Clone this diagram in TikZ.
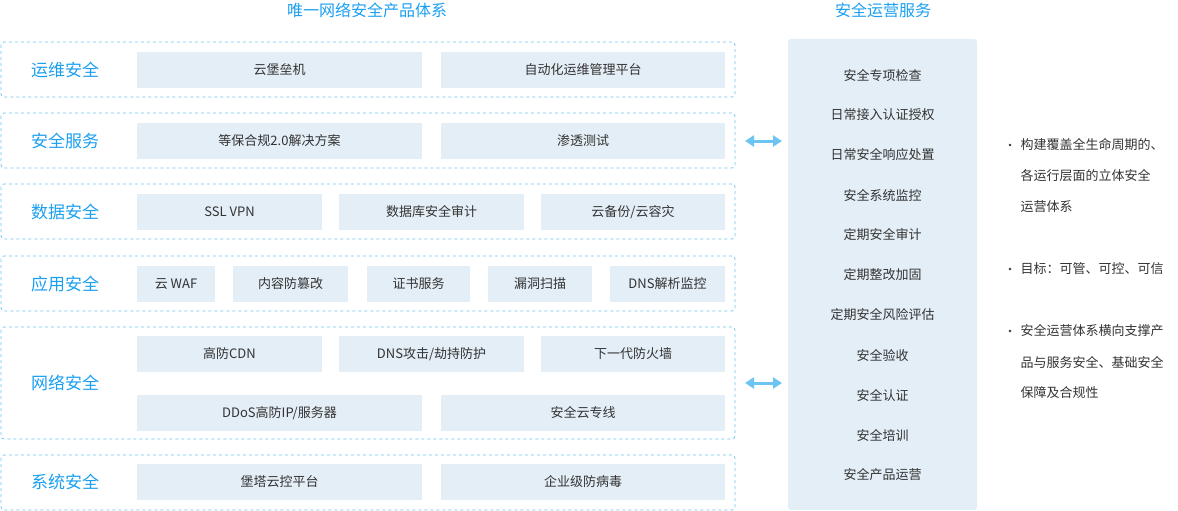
\documentclass[tikz,border=0pt]{standalone}
\usepackage{fontspec}
\setmainfont{Noto Sans CJK SC}
\usetikzlibrary{arrows.meta,positioning}
\definecolor{secblue}{HTML}{1A9FF0}
\definecolor{boxfill}{HTML}{E3EEF6}
\definecolor{dashline}{HTML}{6CC4F2}
\definecolor{txtgray}{HTML}{333333}
\tikzset{
	grp/.style={draw=dashline, dashed, rounded corners=3pt, line width=0.8pt},
	grp name/.style={text=secblue, font=\fontsize{17}{17}\selectfont, anchor=center},
	title/.style={text=secblue, font=\fontsize{16}{16}\selectfont},
	svc/.style={text=txtgray, font=\fontsize{13}{13}\selectfont},
	note/.style={text=txtgray, font=\fontsize{13}{13}\selectfont, anchor=west},
	link/.style={{Triangle[width=11pt,length=9pt]}-{Triangle[width=11pt,length=9pt]}, draw=dashline, line width=3pt}
}
\begin{document}
\begin{tikzpicture}[x=1pt, y=-1pt]
  \useasboundingbox (0,0) rectangle (1178,511);
  % titles
  \node[title] (t1) at (367,10) {唯一网络安全产品体系};
  \node[title] (t2) at (883,10) {安全运营服务};
  % groups
  \draw[grp] (1,42) rectangle (735,97);
  \draw[grp] (1,113) rectangle (735,168);
  \draw[grp] (1,184) rectangle (735,239);
  \draw[grp] (1,256) rectangle (735,311);
  \draw[grp] (1,327) rectangle (735,439);
  \draw[grp] (1,455) rectangle (735,510);
  \node[grp name] (g1) at (65,70) {运维安全};
  \node[grp name] (g2) at (65,141) {安全服务};
  \node[grp name] (g3) at (65,212) {数据安全};
  \node[grp name] (g4) at (65,284) {应用安全};
  \node[grp name] (g5) at (65,383) {网络安全};
  \node[grp name] (g6) at (65,482) {系统安全};
  % items: x1/x2/y/text
  \foreach \xa/\xb/\yy/\txt in {
      137/422/70/云堡垒机, 441/725/70/自动化运维管理平台,
      137/422/141/等保合规2.0解决方案, 441/725/141/渗透测试,
      137/322/212/SSL VPN, 339/524/212/数据库安全审计, 541/725/212/{云备份/云容灾},
      137/215/284/云 WAF, 233/348/284/内容防篡改, 367/470/284/证书服务,
      488/592/284/漏洞扫描, 610/725/284/DNS解析监控,
      137/322/354/高防CDN, 339/524/354/{DNS攻击/劫持防护}, 541/725/354/下一代防火墙,
      137/422/413/{DDoS高防IP/服务器}, 441/725/413/安全云专线,
      137/422/482/堡塔云控平台, 441/725/482/企业级防病毒} {
    \fill[boxfill] (\xa,\yy-18) rectangle (\xb,\yy+18);
    \node[svc] at ({(\xa+\xb)/2},\yy) {\txt};
  }
  % service panel
  \node[fill=boxfill, rounded corners=3pt, minimum width=189pt, minimum height=471pt, inner sep=0pt] (ops) at (882.5,274.5) {};
  \foreach \txt [count=\i] in {安全专项检查, 日常接入认证授权, 日常安全响应处置, 安全系统监控,
      定期安全审计, 定期整改加固, 定期安全风险评估, 安全验收, 安全认证, 安全培训, 安全产品运营} {
    \node[svc] (s\i) at (882.5,35+40*\i) {\txt};
  }
  % links
  \coordinate (a1) at (745,141); \coordinate (b1) at (782,141);
  \coordinate (a2) at (745,383); \coordinate (b2) at (782,383);
  \draw[link] (a1) -- (b1);
  \draw[link] (a2) -- (b2);
  % notes
  \foreach \yy in {145,269,331}
    \fill[txtgray] (1010,\yy) circle (1.3pt);
  \node[note] (n1) at (1017,145) {构建覆盖全生命周期的、};
  \node[note] (n2) at (1017,176) {各运行层面的立体安全};
  \node[note] (n3) at (1017,207) {运营体系};
  \node[note] (n4) at (1017,269) {目标：可管、可控、可信};
  \node[note] (n5) at (1017,331) {安全运营体系横向支撑产};
  \node[note] (n6) at (1017,362) {品与服务安全、基础安全};
  \node[note] (n7) at (1017,393) {保障及合规性};
\end{tikzpicture}
\end{document}
